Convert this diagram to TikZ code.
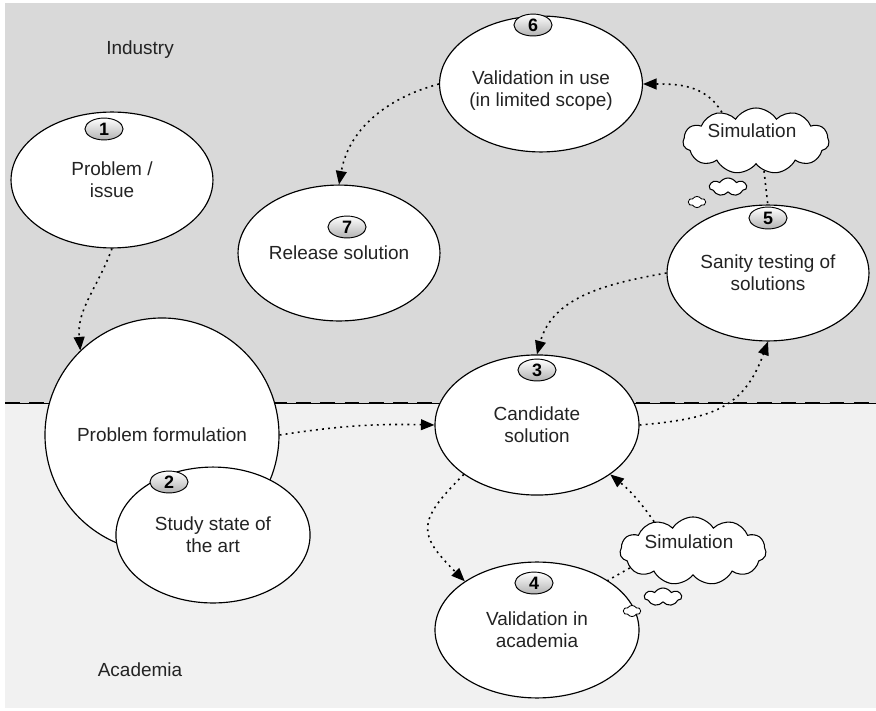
\documentclass[tikz,border=0pt]{standalone}
\usepackage{fontspec}
\setmainfont{Liberation Sans}
\usetikzlibrary{shapes.geometric,shapes.symbols,arrows.meta}
\definecolor{industrygray}{RGB}{217,217,217}
\definecolor{academiagray}{RGB}{241,241,241}
\definecolor{inkgray}{RGB}{35,35,35}

\begin{document}
\begin{tikzpicture}[
    font=\fontsize{18}{21}\selectfont,
    phase/.style={ellipse, draw=black, line width=1.1pt, fill=white, text=inkgray, align=center,
        inner sep=0pt, minimum width=6.73cm, minimum height=4.53cm},
    badge/.style={ellipse, draw=black, line width=0.9pt, top color=white, bottom color=gray!60,
        inner sep=0pt, minimum width=1.27cm, minimum height=0.73cm, font=\fontsize{17}{17}\selectfont\bfseries},
    thought/.style={cloud, cloud puffs=11, cloud puff arc=115, draw=black, line width=1pt, fill=white, inner sep=0pt},
    flow/.style={line width=1.5pt, dash pattern=on 1.8pt off 4pt, -{Triangle[length=4.5mm,width=3.6mm]}},
    link/.style={line width=1.5pt, dash pattern=on 1.8pt off 4pt}
]
    \useasboundingbox (0,0) rectangle (29.2,23.667);

    % Industry / academia areas
    \fill[industrygray] (0.167,10.233) rectangle (29.2,23.567);
    \fill[academiagray] (0.167,0.067) rectangle (29.2,10.233);
    \coordinate (lineL) at (0.167,10.233);
    \coordinate (lineR) at (29.2,10.233);
    \draw[line width=0.7pt] (lineL) -- (lineR);
    \draw[line width=2.6pt, dash pattern=on 14pt off 9pt] (lineL) -- (lineR);

    \node[text=inkgray] (industry) at (4.667,22.0) {Industry};
    \node[text=inkgray] (academia) at (4.667,1.333) {Academia};

    % Steps
    \node[phase] (e1) at (3.733,17.667) {Problem /\\issue};
    \node[circle, draw=black, line width=1.1pt, fill=white, text=inkgray, inner sep=0pt,
        minimum size=7.8cm] (pf) at (5.4,9.167) {Problem formulation};
    \node[phase, minimum width=6.47cm] (e2) at (7.1,5.833) {Study state of\\the art};
    \node[phase, minimum width=6.8cm, minimum height=4.67cm] (e3) at (17.9,9.5) {Candidate\\solution};
    \node[phase, minimum width=6.8cm] (e4) at (17.9,2.667) {Validation in\\academia};
    \node[phase] (e5) at (25.6,14.567) {Sanity testing of\\solutions};
    \node[phase] (e6) at (18.033,20.867) {\mbox{}\\[5pt]Validation in use\\(in limited scope)};
    \node[phase] (e7) at (11.3,15.233) {Release solution};

    % Step numbers
    \node[badge] (b1) at (3.467,19.367) {1};
    \node[badge] (b2) at (5.633,7.6) {2};
    \node[badge] (b3) at (17.9,11.333) {3};
    \node[badge] (b4) at (17.8,4.233) {4};
    \node[badge] (b5) at (25.6,16.4) {5};
    \node[badge] (b6) at (17.767,22.833) {6};
    \node[badge] (b7) at (11.567,16.1) {7};

    % Simulation clouds
    \node[thought, minimum width=4.87cm, minimum height=2.27cm] (simA) at (23.1,5.3) {};
    \node[text=inkgray] (simAtext) at (22.967,5.6) {Simulation};
    \node[thought, cloud puffs=7, minimum width=1.23cm, minimum height=0.6cm] (puffA) at (22.1,3.767) {};
    \node[thought, cloud puffs=6, line width=0.8pt, minimum width=0.57cm, minimum height=0.37cm] (dotA) at (21.067,3.3) {};

    \node[thought, minimum width=4.87cm, minimum height=2.2cm] (simB) at (25.2,18.967) {};
    \node[text=inkgray] (simBtext) at (25.067,19.3) {Simulation};
    \node[thought, cloud puffs=7, minimum width=1.23cm, minimum height=0.6cm] (puffB) at (24.267,17.433) {};
    \node[thought, cloud puffs=6, line width=0.8pt, minimum width=0.57cm, minimum height=0.37cm] (dotB) at (23.233,16.933) {};

    % Flow between steps
    \draw[flow] (e1.south) to[out=250, in=95] (pf.134);
    \draw[flow] (pf.east) to[bend left=5] (e3.west);
    \draw[flow] (e3.east) to[out=5, in=250, looseness=1.2] (e5.south);
    \draw[flow] (e5.west) to[out=190, in=75] (e3.north);
    \draw[flow] (e3.214) to[out=225, in=135, looseness=1.6] (e4.146);
    \draw[flow] (simA.143) to[bend right=8] (e3.-34);
    \draw[link] (simA.195) -- (e4.35);
    \draw[flow] (simB.140) to[out=120, in=0] (e6.east);
    \draw[link] (simB.285) -- (b5.north);
    \draw[flow] (e6.west) to[out=195, in=80] (e7.north);
\end{tikzpicture}
\end{document}
